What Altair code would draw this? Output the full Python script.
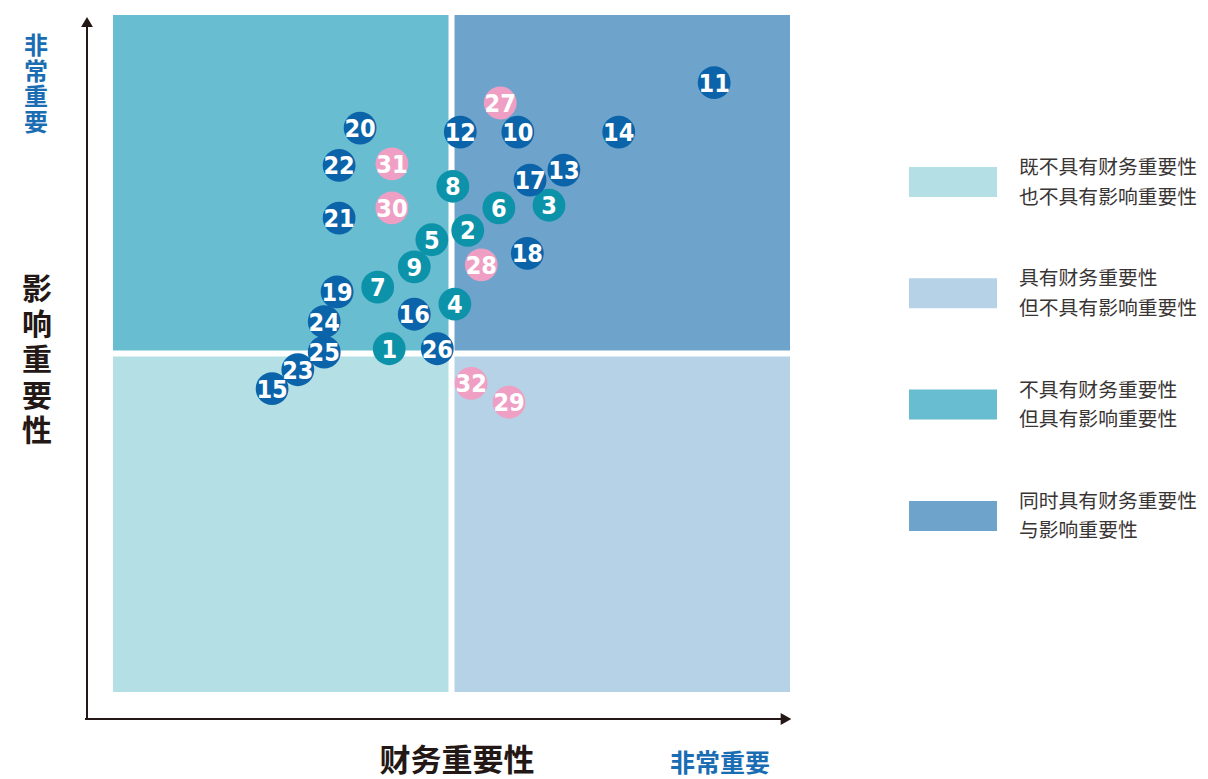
import altair as alt
import pandas as pd

# ---- data ----
ids = list(range(1, 33))
fin = [40.8, 52.4, 64.4, 50.5, 47.1, 57.0, 39.1, 50.2, 44.5, 59.8,
       88.8, 51.3, 66.6, 74.7, 23.5, 44.5, 61.6, 61.2, 33.1, 36.5,
       33.4, 33.4, 27.3, 31.2, 31.2, 47.9, 57.2, 54.4, 58.5, 41.2,
       41.2, 52.9]
imp = [50.7, 68.2, 71.9, 57.3, 66.8, 71.5, 59.8, 74.7, 62.8, 82.7,
       90.0, 82.7, 77.1, 82.7, 44.8, 55.8, 75.6, 64.8, 59.1, 83.3,
       70.0, 77.8, 47.6, 54.7, 50.2, 50.7, 87.0, 63.1, 42.8, 71.5,
       78.0, 45.6]
group = ["teal"] * 9 + ["navy"] * 17 + ["pink"] * 6

group_names = ["teal", "navy", "pink"]
group_colors = ["#0c93aa", "#0b63a9", "#ef9fc4"]

quad_names = ["既不具有财务重要性\n也不具有影响重要性",
              "具有财务重要性\n但不具有影响重要性",
              "不具有财务重要性\n但具有影响重要性",
              "同时具有财务重要性\n与影响重要性"]
quad_x0 = [0, 50, 0, 50]
quad_x1 = [50, 100, 50, 100]
quad_y0 = [0, 0, 50, 50]
quad_y1 = [50, 50, 100, 100]
quad_colors = ["#b3dfe5", "#b5d2e6", "#68bdd0", "#6ea4cb"]

pts = pd.DataFrame({"id": ids, "fin": fin, "imp": imp, "group": group})
quads = pd.DataFrame({"name": quad_names, "x0": quad_x0, "x1": quad_x1,
                      "y0": quad_y0, "y1": quad_y1, "color": quad_colors})

W = H = 677
xs = alt.Scale(domain=[0, 100], nice=False, zero=False)
ys = alt.Scale(domain=[0, 100], nice=False, zero=False)

CJK = "Noto Sans CJK SC"
DARK = "#231815"
BLUE = "#1b6db3"

quad_layer = alt.Chart(quads).mark_rect().encode(
    x=alt.X("x0:Q", scale=xs, axis=None), x2="x1:Q",
    y=alt.Y("y0:Q", scale=ys, axis=None), y2="y1:Q",
    color=alt.Color("color:N", scale=None, legend=None),
)

sep_v = alt.Chart(pd.DataFrame({"v": [50]})).mark_rule(color="white", strokeWidth=6).encode(
    x=alt.X("v:Q", scale=xs, axis=None), y=alt.value(0), y2=alt.value(H))
sep_h = alt.Chart(pd.DataFrame({"v": [50]})).mark_rule(color="white", strokeWidth=6).encode(
    y=alt.Y("v:Q", scale=ys, axis=None), x=alt.value(0), x2=alt.value(W))

circles = alt.Chart(pts).mark_circle(size=1075, opacity=1).encode(
    x=alt.X("fin:Q", scale=xs, axis=None),
    y=alt.Y("imp:Q", scale=ys, axis=None),
    color=alt.Color("group:N", scale=alt.Scale(domain=group_names, range=group_colors), legend=None),
    order=alt.Order("id:Q"),
)
labels = alt.Chart(pts).mark_text(
    color="white", fontSize=25, fontWeight="bold",
    font="'DejaVu Sans Condensed', 'Liberation Sans Narrow', sans-serif",
    baseline="middle", align="center", dy=1,
).encode(
    x=alt.X("fin:Q", scale=xs, axis=None),
    y=alt.Y("imp:Q", scale=ys, axis=None),
    text="id:N",
)

# axes arrows
axis_x = alt.Chart(pd.DataFrame({"a": [0]})).mark_rule(color=DARK, strokeWidth=2).encode(
    x=alt.value(-28), x2=alt.value(672), y=alt.value(704))
axis_y = alt.Chart(pd.DataFrame({"a": [0]})).mark_rule(color=DARK, strokeWidth=2).encode(
    x=alt.value(-26), y=alt.value(705), y2=alt.value(8))
arrow_x = alt.Chart(pd.DataFrame({"a": [0]})).mark_point(
    shape="triangle-right", filled=True, color=DARK, size=150, opacity=1).encode(
    x=alt.value(673), y=alt.value(704))
arrow_y = alt.Chart(pd.DataFrame({"a": [0]})).mark_point(
    shape="triangle-up", filled=True, color=DARK, size=140, opacity=1).encode(
    x=alt.value(-26), y=alt.value(7))

# titles
t_x = alt.Chart(pd.DataFrame({"t": ["财务重要性"]})).mark_text(
    font=CJK, fontSize=31, fontWeight="bold", color=DARK, baseline="middle", align="center").encode(
    text="t:N", x=alt.value(344), y=alt.value(747))
t_x_hi = alt.Chart(pd.DataFrame({"t": ["非常重要"]})).mark_text(
    font=CJK, fontSize=25, fontWeight="bold", color=BLUE, baseline="middle", align="center").encode(
    text="t:N", x=alt.value(607), y=alt.value(749))
t_y = alt.Chart(pd.DataFrame({"t": ["\n".join("影响重要性")]})).mark_text(
    font=CJK, fontSize=30, fontWeight="bold", color=DARK, baseline="middle", align="center",
    lineBreak="\n", lineHeight=35.5).encode(
    text="t:N", x=alt.value(-76), y=alt.value(275))
t_y_hi = alt.Chart(pd.DataFrame({"t": ["\n".join("非常重要")]})).mark_text(
    font=CJK, fontSize=24, fontWeight="bold", color=BLUE, baseline="middle", align="center",
    lineBreak="\n", lineHeight=25.7).encode(
    text="t:N", x=alt.value(-77), y=alt.value(32))

# legend (manual)
legend_layers = []
for i, (name, col) in enumerate(zip(quad_names, quad_colors)):
    top = 152 + i * 111.3
    df = pd.DataFrame({"name": [name]})
    legend_layers.append(alt.Chart(df).mark_rect(color=col).encode(
        x=alt.value(796), x2=alt.value(884), y=alt.value(top), y2=alt.value(top + 30)))
    legend_layers.append(alt.Chart(df).mark_text(
        font=CJK, fontSize=19.8, color="#3a3535", align="left", baseline="middle",
        lineBreak="\n", lineHeight=29.5).encode(
        text="name:N", x=alt.value(906), y=alt.value(top + 1)))

chart = alt.layer(
    quad_layer, sep_v, sep_h, circles, labels,
    axis_x, axis_y, arrow_x, arrow_y, t_x, t_x_hi, t_y, t_y_hi, *legend_layers
).properties(
    width=W, height=H,
    autosize=alt.AutoSizeParams(type="none"),
    padding={"left": 105, "top": 7, "right": 1208 - 16 - 105 - W, "bottom": 779 - 8 - 7 - H},
).configure_view(stroke=None)

chart.save("out.html", embed_options={"renderer": "svg", "actions": False})
